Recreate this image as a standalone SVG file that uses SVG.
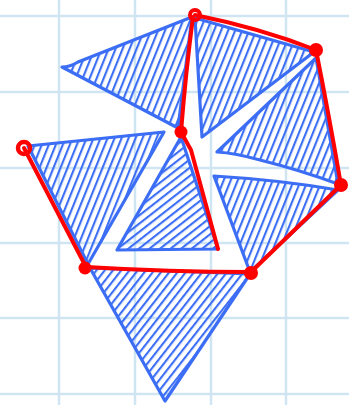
<svg xmlns="http://www.w3.org/2000/svg" width="349" height="405" viewBox="0 0 349 405">
<defs>
<style>
.grid line{stroke:#cfe5f2;stroke-width:2.5}
.tri{stroke:#3c6ef5;stroke-width:3.2;stroke-linejoin:round;stroke-linecap:round}
.red{fill:none;stroke:#ff0000;stroke-width:4;stroke-linecap:round;stroke-linejoin:round}
.pt{fill:#ff0000}
</style>
<pattern id="h1" patternUnits="userSpaceOnUse" width="6.5" height="12" patternTransform="rotate(22)">
<line x1="2" y1="0" x2="2" y2="12" stroke="#3c6ef5" stroke-width="2.1"/>
</pattern>
<pattern id="h2" patternUnits="userSpaceOnUse" width="6.5" height="12" patternTransform="rotate(52)">
<line x1="2" y1="0" x2="2" y2="12" stroke="#3c6ef5" stroke-width="2.1"/>
</pattern>
<pattern id="h3" patternUnits="userSpaceOnUse" width="6.5" height="12" patternTransform="rotate(38)">
<line x1="2" y1="0" x2="2" y2="12" stroke="#3c6ef5" stroke-width="2.1"/>
</pattern>
</defs>
<rect width="349" height="405" fill="#ffffff"/>
<g class="grid">
<line x1="59" y1="0" x2="59" y2="405"/>
<line x1="135" y1="0" x2="135" y2="405"/>
<line x1="211" y1="0" x2="211" y2="405"/>
<line x1="286" y1="0" x2="286" y2="405"/>
<line x1="0" y1="16" x2="349" y2="16"/>
<line x1="0" y1="92" x2="349" y2="92"/>
<line x1="0" y1="168" x2="349" y2="168"/>
<line x1="0" y1="243" x2="349" y2="243"/>
<line x1="0" y1="318" x2="349" y2="318"/>
<line x1="0" y1="394" x2="349" y2="394"/>
</g>
<g id="tri-top-left"><path class="tri" fill="url(#h1)" d="M62,67 Q70,67 78,62 L192,17 L178,128 Z"/></g>
<g id="tri-top-right"><path class="tri" fill="url(#h1)" d="M195,18 L314,52 L202,137 Z"/></g>
<g id="tri-right"><path class="tri" fill="url(#h1)" d="M217,152 L316,58 L338,184 Q300,170 260,160 Q235,153 217,152 Z"/></g>
<g id="tri-lower-right"><path class="tri" fill="url(#h1)" d="M214,176 Q280,180 338,190 L250,272 Z"/></g>
<g id="tri-left"><path class="tri" fill="url(#h1)" d="M28,146 L164,132 L88,264 Z"/></g>
<g id="tri-center"><path class="tri" fill="url(#h2)" d="M181,137 L117,250 L218,249 Z"/></g>
<g id="tri-bottom"><path class="tri" fill="url(#h3)" d="M90,268 L250,274 L165,401 Z"/></g>
<g id="connectors">
<path class="red" d="M195,15 Q260,28 316,50"/>
<path class="red" d="M316,50 Q328,110 341,185"/>
<path class="red" d="M341,185 L251,272"/>
<path class="red" d="M193,17 Q186,70 181,132"/>
<path class="red" d="M181,132 L191,150 L218,249"/>
<path class="red" d="M24,148 L86,267"/>
<path class="red" d="M86,267 Q170,272 251,272"/>
</g>
<g id="pt-a"><circle cx="195" cy="15" r="5" fill="none" stroke="#ff0000" stroke-width="4"/></g>
<g id="pt-b"><circle class="pt" cx="316" cy="50" r="7"/></g>
<g id="pt-c"><circle class="pt" cx="341" cy="185" r="7"/></g>
<g id="pt-d"><circle class="pt" cx="181" cy="132" r="6.5"/></g>
<g id="pt-e"><circle cx="24" cy="148" r="6" fill="none" stroke="#ff0000" stroke-width="4.5"/></g>
<g id="pt-f"><circle class="pt" cx="85" cy="268" r="6.5"/></g>
<g id="pt-g"><circle class="pt" cx="251" cy="273" r="7"/></g>
</svg>
